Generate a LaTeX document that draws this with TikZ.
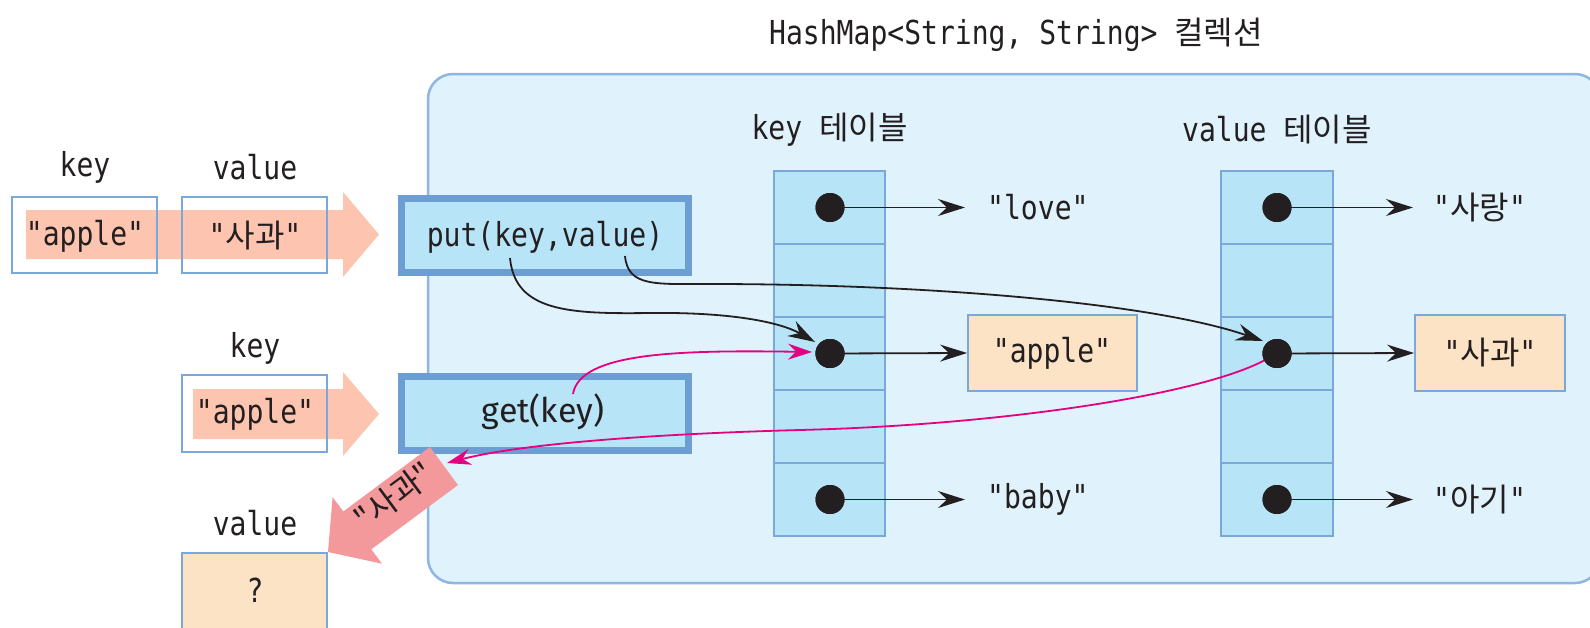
\documentclass[tikz,border=0pt]{standalone}
\usepackage{fontspec}
\usetikzlibrary{arrows.meta}
\newfontfamily\monof[FakeStretch=0.85]{DejaVu Sans Mono}
\newfontfamily\korf[Scale=0.97]{Noto Sans CJK KR}
\newfontfamily\sansf{Fira Sans}
\newcommand\ko[1]{{\korf #1}}
\definecolor{txt}{HTML}{231F20}
\definecolor{contfill}{HTML}{E0F2FC}
\definecolor{contdraw}{HTML}{8DB6E2}
\definecolor{cellfill}{HTML}{B8E4F8}
\definecolor{celldraw}{HTML}{7AA8DA}
\definecolor{opdraw}{HTML}{6C9DD3}
\definecolor{peach}{HTML}{FDE3C6}
\definecolor{salmon}{HTML}{FDC5AF}
\definecolor{pinkarrow}{HTML}{F4999B}
\definecolor{mag}{HTML}{E5007F}
\tikzset{
  lbl/.style={inner sep=0pt, text=txt},
  inbox/.style={draw=celldraw, line width=1.8pt, minimum width=145pt, inner sep=0pt},
  opbox/.style={draw=opdraw, fill=cellfill, line width=7pt, minimum width=287pt, minimum height=74pt, inner sep=0pt},
  cell/.style={draw=celldraw, fill=cellfill, line width=1.8pt, minimum width=111pt, minimum height=73pt, inner sep=0pt, outer sep=0pt},
  dotn/.style={circle, fill=txt, minimum size=29pt, inner sep=0pt},
  strbox/.style={draw=celldraw, fill=peach, line width=1.8pt, minimum width=169pt, minimum height=76pt, inner sep=0pt},
  ptr/.style={draw=txt, line width=1.8pt, -{Stealth[length=27pt, width=17pt, inset=9pt]}},
  magptr/.style={draw=mag, line width=1.8pt, -{Stealth[length=24pt, width=16pt, inset=8pt]}},
}
\begin{document}
\begin{tikzpicture}[x=1pt, y=-1pt, font=\monof\fontsize{33}{36}\selectfont]
\clip (0,0) rectangle (1590,627);
\fill[white] (0,0) rectangle (1590,627);

% title
\node[lbl] (title) at (1016,35) {HashMap<String, String> \ko{컬렉션}};

% container
\draw[fill=contfill, draw=contdraw, line width=2.5pt, rounded corners=25pt] (428,74) rectangle (1600,583);

% left side arrows
\fill[salmon] (26,210) -- (343,210) -- (343,192) -- (379,234.5) -- (343,277) -- (343,259) -- (26,259) -- cycle;
\fill[salmon] (193,389) -- (343,389) -- (343,372) -- (379,414) -- (343,456) -- (343,439) -- (193,439) -- cycle;

% left labels and boxes
\node[lbl] (lk1) at (85,167) {key};
\node[lbl] (lv1) at (255,167) {value};
\node[inbox, minimum height=76pt] (b1) at (84.5,235) {};
\node[inbox, minimum height=76pt] (b2) at (254.5,235) {};
\node[lbl] (t1) at (85,236) {"apple"};
\node[lbl] (t2) at (255,236) {"\ko{사과}"};

\node[lbl] (lk2) at (255,348) {key};
\node[inbox, minimum height=77pt] (b3) at (254.5,413.5) {};
\node[lbl] (t3) at (255,414) {"apple"};

\node[lbl] (lv2) at (255,523) {value};
\node[inbox, fill=peach, minimum height=107pt] (b4) at (254.5,606.5) {};
\node[lbl] (q) at (255,590) {?};

% operation boxes
\node[opbox] (put) at (545,235.5) {};
\node[lbl] (putt) at (545,237) {put(key,value)};
\node[opbox] (get) at (545,413.5) {};
\node[lbl, font=\sansf\fontsize{34}{36}\selectfont] (gett) at (543,412) {get(key)};

% tables
\node[lbl] (khead) at (829.5,130) {key \ko{테이블}};
\node[lbl] (vhead) at (1277,130) {value \ko{테이블}};
\foreach \i/\y in {1/207.5,2/280.5,3/353.5,4/426.5,5/499.5}{
  \node[cell] (k\i) at (829.5,\y) {};
  \node[cell, minimum width=112pt] (v\i) at (1277,\y) {};
}

% key strings
\node[lbl, anchor=west] (kt1) at (987,207.5) {"love"};
\node[strbox] (kt3) at (1052.5,353) {};
\node[lbl] (kt3t) at (1052,353) {"apple"};
\node[lbl, anchor=west] (kt5) at (987,499.5) {"baby"};
% value strings
\node[lbl, anchor=west] (vt1) at (1433,207.5) {"\ko{사랑}"};
\node[strbox, minimum width=150pt] (vt3) at (1490,353) {};
\node[lbl] (vt3t) at (1490,353) {"\ko{사과}"};
\node[lbl, anchor=west] (vt5) at (1433,499.5) {"\ko{아기}"};

% dots
\foreach \i/\y in {1/207.5,3/353.5,5/499.5}{
  \node[dotn] (kd\i) at (830,\y) {};
  \node[dotn] (vd\i) at (1277,\y) {};
}

% pointers
\draw[ptr] (kd1.center) -- ([xshift=-22pt]kt1.west |- kd1);
\draw[ptr] (kd3.center) -- (kt3.west);
\draw[ptr] (kd5.center) -- ([xshift=-22pt]kt5.west |- kd5);
\draw[ptr] (vd1.center) -- ([xshift=-20pt]vt1.west |- vd1);
\draw[ptr] (vd3.center) -- (vt3.west);
\draw[ptr] (vd5.center) -- ([xshift=-20pt]vt5.west |- vd5);
\foreach \i/\y in {1/207.5,3/353.5,5/499.5}{
  \node[dotn] at (830,\y) {};
  \node[dotn] at (1277,\y) {};
}

% put curves
\coordinate (pk) at (510,258);
\coordinate (pv) at (625,256);
\coordinate (kin) at (815,342);
\coordinate (vin) at (1263,341);
\draw[ptr] (pk) .. controls (515,312) and (570,314) .. (650,313)
  .. controls (730,312) and (780,322) .. (kin);
\draw[ptr] (pv) .. controls (628,287) and (655,284) .. (710,284)
  .. controls (920,284) and (1150,302) .. (vin);

% rotated result arrow
\fill[pinkarrow] (458,485) -- (430,447) -- (343.3,511.5) -- (332.6,497.1) -- (328,552) -- (382,563.7) -- (371.3,549.3) -- cycle;
\node[lbl, rotate=36.5, font=\korf\fontsize{33}{36}\selectfont] (res) at (394,496) {"사과"};

% get curves
\coordinate (gk) at (573,394);
\coordinate (kin2) at (812,352);
\coordinate (vout) at (1265,360);
\coordinate (gout) at (447,463);
\draw[magptr] (gk) .. controls (580,352) and (680,350) .. (kin2);
\draw[magptr] (vout) .. controls (1200,395) and (1000,425) .. (800,430)
  .. controls (650,434) and (520,444) .. (gout);
\node[dotn] at (830,353.5) {};
\node[dotn] at (1277,353.5) {};
\end{tikzpicture}
\end{document}
